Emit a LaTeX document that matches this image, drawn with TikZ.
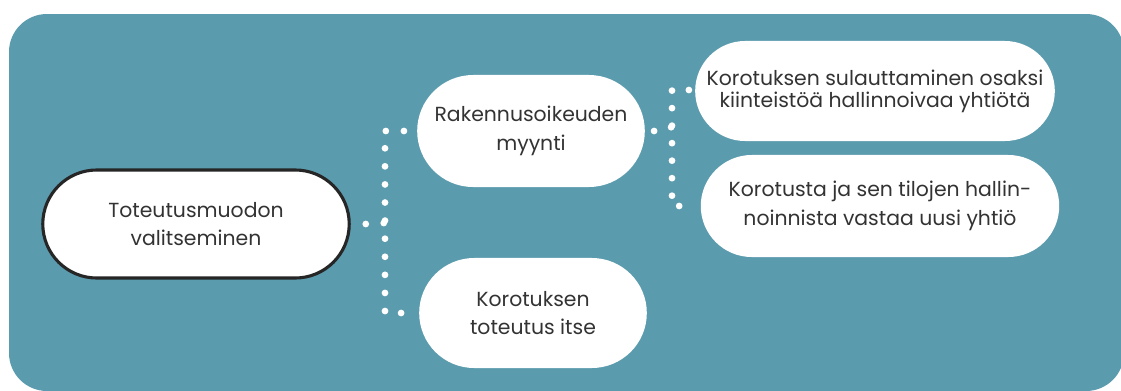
\documentclass[tikz,border=0pt]{standalone}
\usepackage{fontspec}
\setmainfont{Poppins}
\definecolor{panel}{HTML}{5B9BAE}
\definecolor{ink}{HTML}{333333}
\usetikzlibrary{shapes.misc,positioning}
\tikzset{
  pill/.style={rounded rectangle,fill=white,align=center,text=ink,inner sep=2pt,
               font=\fontsize{14.5}{20.5}\selectfont},
  rootpill/.style={pill,draw=black!85,line width=2.2pt},
  dotline/.style={white,line width=4.8pt,line cap=round,dash pattern=on 0pt off #1}
}

\begin{document}
\begin{tikzpicture}[x=0.025cm,y=-0.025cm]
    \useasboundingbox (0,0) rectangle (1121,390);
    \fill[panel,rounded corners=27pt] (9,14) rectangle (1124,391);
    \node[rootpill,minimum width=7.8cm,minimum height=2.7cm] (root) at (196,224)
          {Toteutusmuodon\\valitseminen};
    \node[pill,minimum width=5.83cm,minimum height=2.8cm] (rak) at (531,131)
          {Rakennusoikeuden\\myynti};
    \node[pill,minimum width=5.83cm,minimum height=2.75cm] (kor) at (533,313)
          {Korotuksen\\toteutus itse};
    \node[pill,minimum width=9.13cm,minimum height=2.5cm,font=\fontsize{14.5}{15.5}\selectfont]
          (sul) at (875,91) {Korotuksen sulauttaminen osaksi\\kiinteistöä hallinnoivaa yhtiötä};
    \node[pill,minimum width=9.1cm,minimum height=2.55cm] (uusi) at (880,206)
          {Korotusta ja sen tilojen hallin-\\noinnista vastaa uusi yhtiö};
    \coordinate (b1) at (385,223);
    \coordinate (b2) at (672,127);
    \draw[dotline=12.8pt] (root.east) ++(15,0) -- (b1);
    \draw[dotline=12.86pt] (rak.west) ++(-13,0) -| (b1) |- ([xshift=-11.3pt]kor.west);
    \draw[dotline=12.4pt] (rak.east) ++(9,0) -- (b2);
    \draw[dotline=12.45pt] (sul.west) ++(-6,-1) -| (b2) |- ([xshift=-7.8pt]uusi.west);
\end{tikzpicture}
\end{document}
